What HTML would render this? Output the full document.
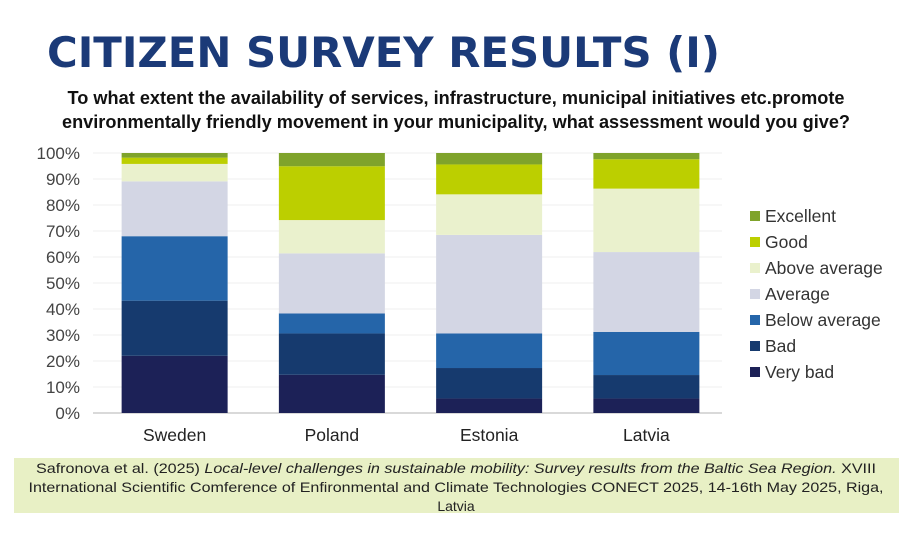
<!DOCTYPE html>
<html><head><meta charset="utf-8"><style>
html,body{margin:0;padding:0;background:#fff;width:912px;height:536px;overflow:hidden}
svg{display:block;font-family:"Liberation Sans",sans-serif}
</style></head><body>
<svg id="c" width="912" height="536" viewBox="0 0 912 536">
<text x="47" y="67" font-family="DejaVu Sans,sans-serif" font-weight="bold" font-size="42" fill="#1b3a78" textLength="673" lengthAdjust="spacingAndGlyphs">CITIZEN SURVEY RESULTS (I)</text>
<text x="456" y="104" text-anchor="middle" font-weight="bold" font-size="18" fill="#111" textLength="777" lengthAdjust="spacingAndGlyphs">To what extent the availability of services, infrastructure, municipal initiatives etc.promote</text>
<text x="456" y="128" text-anchor="middle" font-weight="bold" font-size="18" fill="#111" textLength="788" lengthAdjust="spacingAndGlyphs">environmentally friendly movement in your municipality, what assessment would you give?</text>
<g id="grid"></g><g id="bars"></g><g id="ticks"></g><g id="cats"></g><g id="legend"></g>
<rect x="14" y="458" width="885" height="55" fill="#e8f0c5"/>
<text x="456" y="473" text-anchor="middle" font-size="14" fill="#222" textLength="840" lengthAdjust="spacingAndGlyphs">Safronova et al. (2025) <tspan font-style="italic">Local-level challenges in sustainable mobility: Survey results from the Baltic Sea Region.</tspan> XVIII</text>
<text x="456" y="492" text-anchor="middle" font-size="14" fill="#222" textLength="855" lengthAdjust="spacingAndGlyphs">International Scientific Comference of Enfironmental and Climate Technologies CONECT 2025, 14-16th May 2025, Riga,</text>
<text x="456" y="511" text-anchor="middle" font-size="14" fill="#222">Latvia</text>
</svg>
<script>
const categories=["Sweden","Poland","Estonia","Latvia"];
const seriesNames=["Very bad","Bad","Below average","Average","Above average","Good","Excellent"];
const veryBad=[22,14.7,5.6,5.6];
const bad=[21.2,15.9,11.7,9];
const belowAverage=[24.8,7.7,13.3,16.6];
const average=[21.1,23.1,37.9,30.7];
const aboveAverage=[6.7,12.8,15.6,24.4];
const good=[2.4,20.7,11.5,11.3];
const excellent=[1.8,5.1,4.4,2.4];
const tickLabels=["0%","10%","20%","30%","40%","50%","60%","70%","80%","90%","100%"];
const colors=["#1c2157","#163a6e","#2565a9","#d3d6e4","#eaf1cd","#bccf00","#7fa32b"];
const series=[veryBad,bad,belowAverage,average,aboveAverage,good,excellent];
const NS="http://www.w3.org/2000/svg";
const y0=413,y1=153,xL=93,xR=722;
const yS=v=>y0-(v/100)*(y0-y1);
const band=(xR-xL)/categories.length, bw=106;
const xC=i=>xL+band*(i+0.5)+3;
function mk(t,a,p){const e=document.createElementNS(NS,t);for(const k in a)e.setAttribute(k,a[k]);document.getElementById(p).appendChild(e);return e;}
tickLabels.forEach((t,i)=>{const v=i*10;
 const l=mk('line',{x1:xL,x2:xR,y1:yS(v),y2:yS(v),stroke:i==0?'#d9d9d9':'#efefef','stroke-width':i==0?2:1},'grid');
 
 
 const tx=mk('text',{x:80,y:yS(v)+6,'text-anchor':'end','font-size':17,fill:'#444'},'ticks');
 tx.textContent=t;
 
 
});
categories.forEach((c,i)=>{let acc=0;
 series.forEach((s,j)=>{const v=s[i];
  const r=mk('rect',{x:xC(i)-bw/2,y:yS(acc+v),width:bw,height:yS(acc)-yS(acc+v),fill:colors[j]},'bars');
  
  
  acc+=v;});
 const t=mk('text',{x:xC(i),y:441,'text-anchor':'middle','font-size':17.5,fill:'#222'},'cats');
 t.textContent=c;
 
 
});
for(let j=seriesNames.length-1,k=0;j>=0;j--,k++){const y=216+k*26;
 const r=mk('rect',{x:750,y:y-5,width:10,height:10,fill:colors[j]},'legend');
 
 
 const t=mk('text',{x:765,y:y+6,'font-size':17.5,fill:'#333'},'legend');
 t.textContent=seriesNames[j];
 
 
}
</script>
</body></html>
